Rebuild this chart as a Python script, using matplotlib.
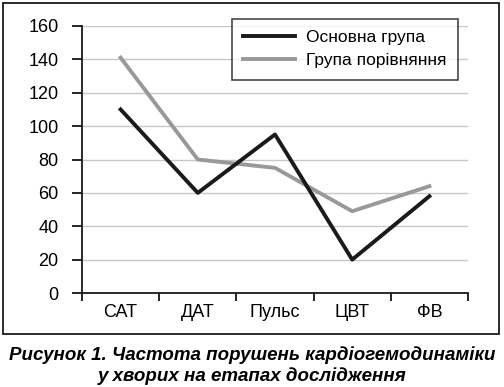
import numpy as np
import matplotlib.pyplot as plt
from matplotlib.patches import Rectangle

categories = ['САТ', 'ДАТ', 'Пульс', 'ЦВТ', 'ФВ']
main_group = [110, 60, 95, 20, 58]
compare_group = [141, 80, 75, 49, 64]
y_ticks = [0, 20, 40, 60, 80, 100, 120, 140, 160]

plt.rcParams['font.family'] = ['Liberation Sans', 'DejaVu Sans']

W, H = 504, 387
fig = plt.figure(figsize=(W / 100, H / 100), dpi=100)

# outer frame around chart
fig.patches.append(Rectangle((3 / W, 1 - 334 / H), 496 / W, 331 / H,
                             transform=fig.transFigure, fill=False,
                             edgecolor='#1a1a1a', linewidth=1.3))

ax = fig.add_axes([82 / W, 1 - 293 / H, (468 - 82) / W, (293 - 26) / H])
x = np.arange(len(categories))
ax.plot(x, compare_group, color='#999999', linewidth=2.8, label='Група порівняння', zorder=3)
ax.plot(x, main_group, color='#1a1a1a', linewidth=2.8, label='Основна група', zorder=4)

ax.set_xlim(-0.5, len(categories) - 0.5)
ax.set_ylim(0, 160)
ax.set_yticks(y_ticks)
ax.grid(axis='y', color='#c8c8c8', linewidth=1)
ax.set_axisbelow(True)

ax.set_xticks(np.arange(len(categories) + 1) - 0.5)
ax.set_xticklabels([])
ax.set_xticks(x, minor=True)
ax.set_xticklabels(categories, minor=True)
ax.tick_params(axis='x', which='minor', length=0, pad=8, labelsize=13)
ax.tick_params(axis='x', which='major', length=6, width=1.2, direction='out')
ax.tick_params(axis='y', length=7, width=1.2, pad=10, labelsize=13)

for s in ['top', 'right']:
    ax.spines[s].set_visible(False)
for s in ['left', 'bottom']:
    ax.spines[s].set_linewidth(1.3)
    ax.spines[s].set_color('#1a1a1a')

handles, labels = ax.get_legend_handles_labels()
leg = ax.legend(handles[::-1], labels[::-1], loc='upper left',
                bbox_to_anchor=((232 - 82) / (468 - 82), (293 - 19) / (293 - 26)),
                borderaxespad=0, fontsize=12.5, frameon=True, fancybox=False,
                edgecolor='#1a1a1a', handlelength=3.0, handletextpad=0.6,
                borderpad=0.65, labelspacing=0.45)
leg.get_frame().set_linewidth(1.2)

fig.text(252 / W, 1 - 355 / H, 'Рисунок 1. Частота порушень кардіогемодинаміки',
         ha='center', va='center', fontsize=13.5, fontweight='bold', style='italic')
fig.text(252 / W, 1 - 376 / H, 'у хворих на етапах дослідження',
         ha='center', va='center', fontsize=13.5, fontweight='bold', style='italic')

fig.savefig('out.png', dpi=100)
